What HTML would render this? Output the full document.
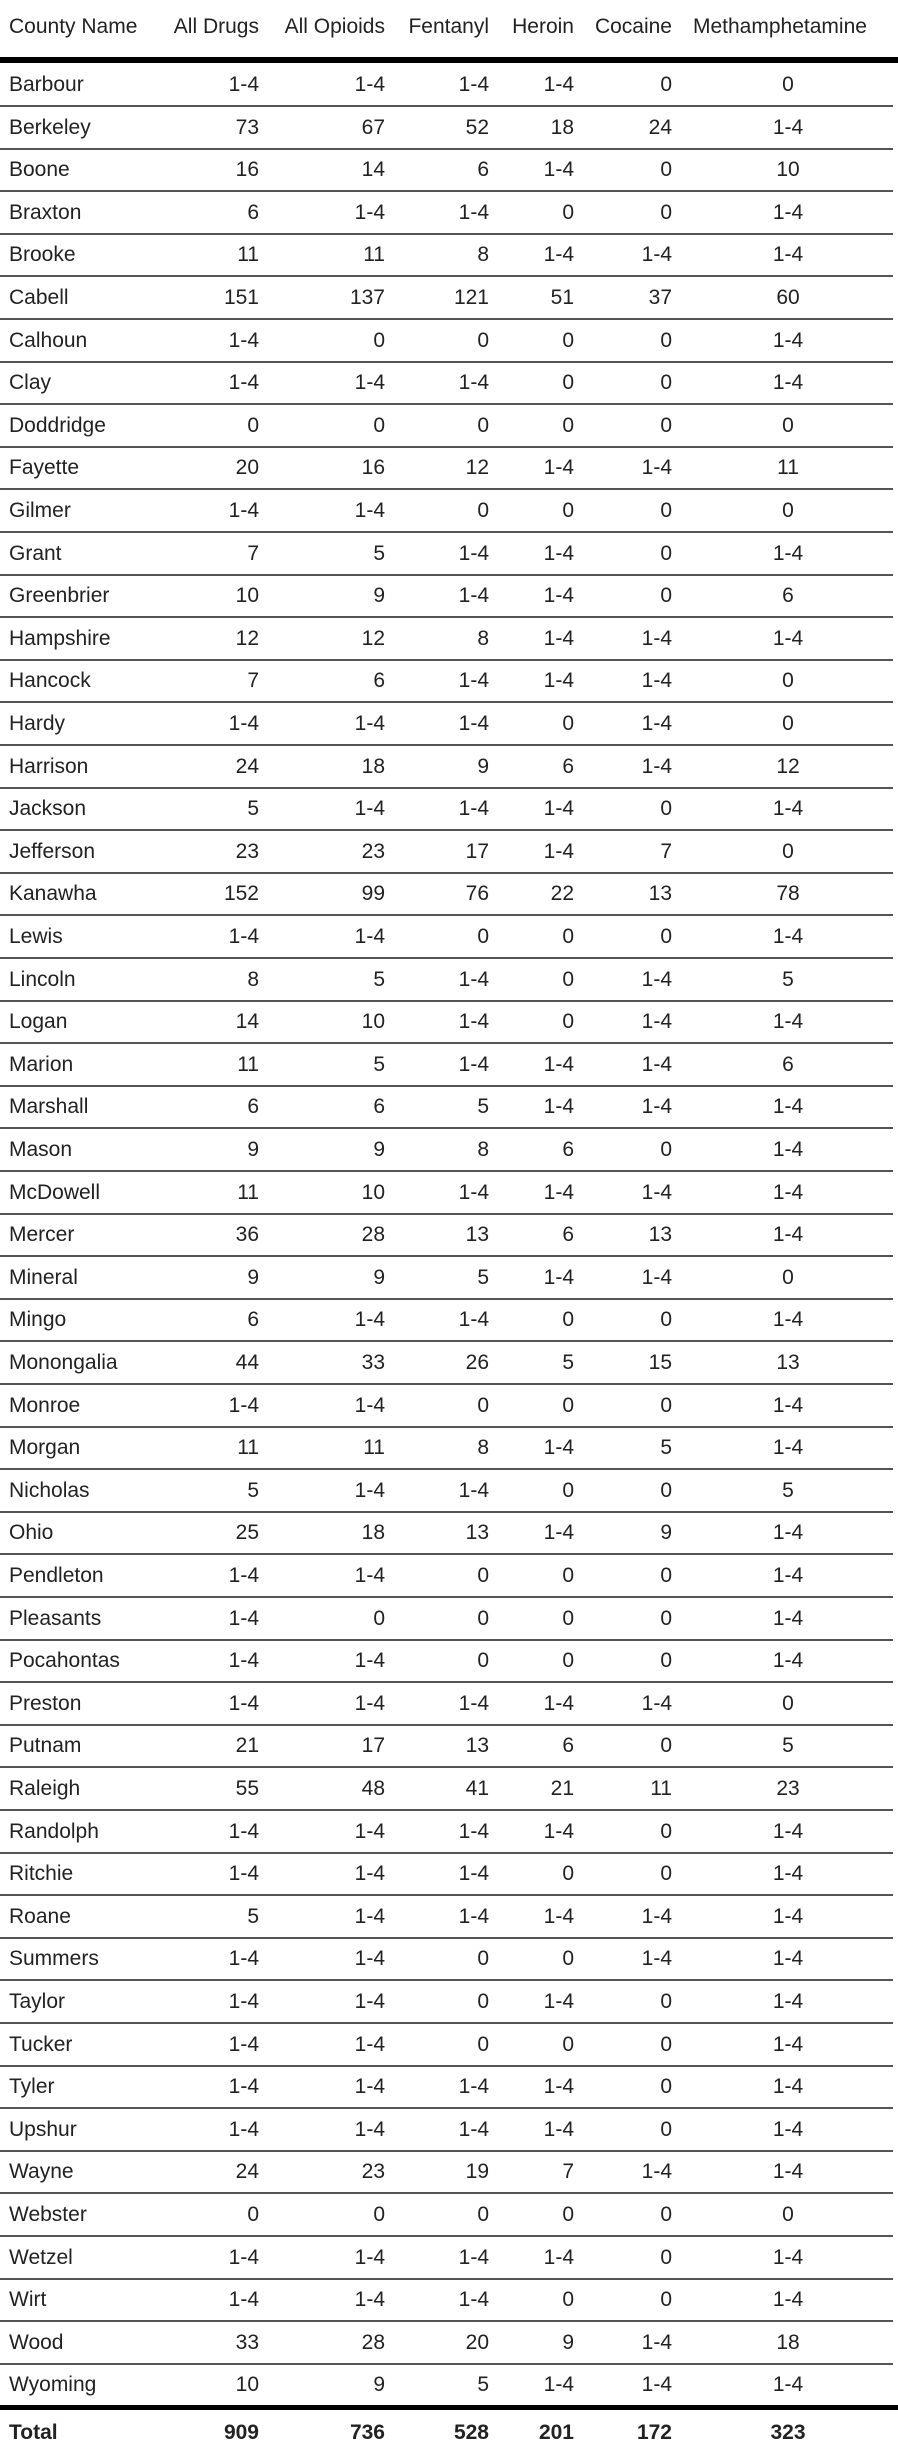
<!DOCTYPE html>
<html><head><meta charset="utf-8"><style>
html,body{margin:0;padding:0;background:#fff;}
body{width:898px;height:2456px;position:relative;overflow:hidden;font-family:"Liberation Sans",sans-serif;font-size:21px;color:#222;}
.t{position:absolute;white-space:nowrap;line-height:24px;}
.r{transform:translateX(-100%);}
.c{transform:translateX(-50%);}
.line{position:absolute;left:0;}
</style></head><body>
<div id="tbl"></div>
<script>
const headers=["County Name","All Drugs","All Opioids","Fentanyl","Heroin","Cocaine","Methamphetamine"];
const counties=["Barbour","Berkeley","Boone","Braxton","Brooke","Cabell","Calhoun","Clay","Doddridge","Fayette","Gilmer","Grant","Greenbrier","Hampshire","Hancock","Hardy","Harrison","Jackson","Jefferson","Kanawha","Lewis","Lincoln","Logan","Marion","Marshall","Mason","McDowell","Mercer","Mineral","Mingo","Monongalia","Monroe","Morgan","Nicholas","Ohio","Pendleton","Pleasants","Pocahontas","Preston","Putnam","Raleigh","Randolph","Ritchie","Roane","Summers","Taylor","Tucker","Tyler","Upshur","Wayne","Webster","Wetzel","Wirt","Wood","Wyoming"];
const allDrugs=["1-4","73","16","6","11","151","1-4","1-4","0","20","1-4","7","10","12","7","1-4","24","5","23","152","1-4","8","14","11","6","9","11","36","9","6","44","1-4","11","5","25","1-4","1-4","1-4","1-4","21","55","1-4","1-4","5","1-4","1-4","1-4","1-4","1-4","24","0","1-4","1-4","33","10"];
const allOpioids=["1-4","67","14","1-4","11","137","0","1-4","0","16","1-4","5","9","12","6","1-4","18","1-4","23","99","1-4","5","10","5","6","9","10","28","9","1-4","33","1-4","11","1-4","18","1-4","0","1-4","1-4","17","48","1-4","1-4","1-4","1-4","1-4","1-4","1-4","1-4","23","0","1-4","1-4","28","9"];
const fentanyl=["1-4","52","6","1-4","8","121","0","1-4","0","12","0","1-4","1-4","8","1-4","1-4","9","1-4","17","76","0","1-4","1-4","1-4","5","8","1-4","13","5","1-4","26","0","8","1-4","13","0","0","0","1-4","13","41","1-4","1-4","1-4","0","0","0","1-4","1-4","19","0","1-4","1-4","20","5"];
const heroin=["1-4","18","1-4","0","1-4","51","0","0","0","1-4","0","1-4","1-4","1-4","1-4","0","6","1-4","1-4","22","0","0","0","1-4","1-4","6","1-4","6","1-4","0","5","0","1-4","0","1-4","0","0","0","1-4","6","21","1-4","0","1-4","0","1-4","0","1-4","1-4","7","0","1-4","0","9","1-4"];
const cocaine=["0","24","0","0","1-4","37","0","0","0","1-4","0","0","0","1-4","1-4","1-4","1-4","0","7","13","0","1-4","1-4","1-4","1-4","0","1-4","13","1-4","0","15","0","5","0","9","0","0","0","1-4","0","11","0","0","1-4","1-4","0","0","0","0","1-4","0","0","0","1-4","1-4"];
const meth=["0","1-4","10","1-4","1-4","60","1-4","1-4","0","11","0","1-4","6","1-4","0","0","12","1-4","0","78","1-4","5","1-4","6","1-4","1-4","1-4","1-4","0","1-4","13","1-4","1-4","5","1-4","1-4","1-4","1-4","0","5","23","1-4","1-4","1-4","1-4","1-4","1-4","1-4","1-4","1-4","0","1-4","1-4","18","1-4"];
const totals=["909","736","528","201","172","323"];

const tbl=document.getElementById('tbl');
const colX=[9,259,385,489,574,672,788];
const colCls=['','r','r','r','r','r','c'];
const colNames=['county-name','all-drugs','all-opioids','fentanyl','heroin','cocaine','methamphetamine'];
function txt(s,x,cy,cls,bold){
  const d=document.createElement('div');
  d.className='t '+cls;
  d.style.left=x+'px';d.style.top=(cy-12)+'px';
  if(bold)d.style.fontWeight='bold';
  d.textContent=s;tbl.appendChild(d);return d;
}
function line(y,h,w,c){
  const d=document.createElement('div');
  d.className='line';d.style.top=y+'px';d.style.height=h+'px';d.style.width=w+'px';d.style.background=c;
  tbl.appendChild(d);return d;
}
headers.forEach((h,i)=>{
  const el=(i===6)?txt(h,693,27,'',false):txt(h,colX[i],27,colCls[i],false);
  
  
});
let hl=line(57,6,898,'#000');


const pitch=42.6;
const cols=[counties,allDrugs,allOpioids,fentanyl,heroin,cocaine,meth];
counties.forEach((c,r)=>{
  const cy=85+r*pitch;
  cols.forEach((arr,i)=>{
    const el=txt(arr[r],colX[i],cy,colCls[i],false);
    
    
  });
  if(r<counties.length-1){
    const l=line(Math.round(cy+20),2,893,'#555');
    
    
  }
});
let bl=line(2405,5,898,'#000');


let tl=txt('Total',9,2433,'',true);


totals.forEach((v,i)=>{
  const el=txt(v,colX[i+1],2433,colCls[i+1],true);
  
  
});
</script>
</body></html>
